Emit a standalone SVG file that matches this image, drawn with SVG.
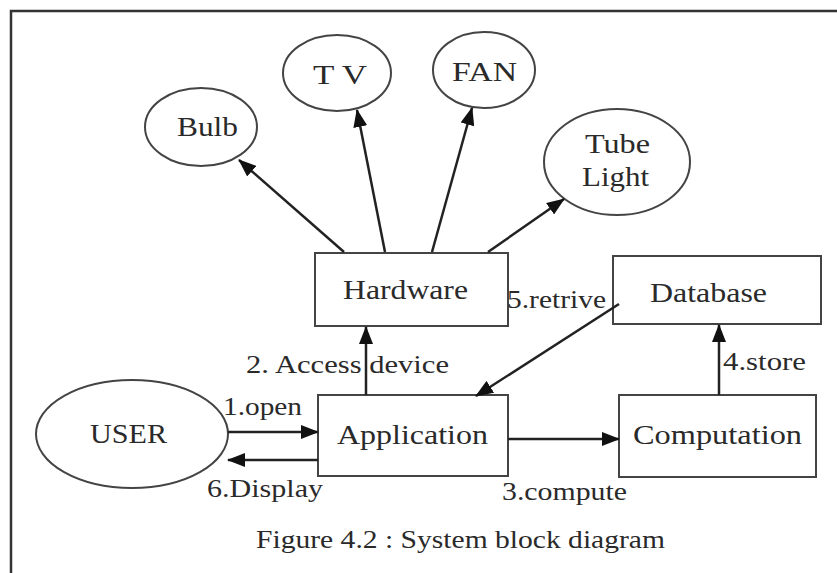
<svg xmlns="http://www.w3.org/2000/svg" width="837" height="573" viewBox="0 0 837 573">
  <style>
    .shape { fill: #ffffff; stroke: #444444; stroke-width: 2; }
    .conn { stroke: #222222; stroke-width: 2.5; fill: none; }
    .node-text { font-family: "Liberation Serif", "Times New Roman", serif; font-size: 28px; fill: #2a2a2a; text-anchor: middle; }
    .label { font-family: "Liberation Serif", "Times New Roman", serif; font-size: 26px; fill: #2a2a2a; }
  </style>
  <defs>
    <marker id="arrow" markerUnits="userSpaceOnUse" markerWidth="18" markerHeight="14" refX="17" refY="7" orient="auto">
      <path d="M0,0 L18,7 L0,14 z" fill="#111111"/>
    </marker>
  </defs>
  <rect width="837" height="573" fill="#ffffff"/>
  <path d="M11,573 L11,11 L837,11" fill="none" stroke="#333333" stroke-width="2.5"/>

  <g id="bulb">
    <ellipse class="shape" cx="201" cy="127" rx="56" ry="39"/>
    <text class="node-text" x="207.5" y="136" textLength="61" lengthAdjust="spacingAndGlyphs">Bulb</text>
  </g>
  <g id="tv">
    <ellipse class="shape" cx="337" cy="73" rx="54" ry="38"/>
    <text class="node-text" x="340" y="84" textLength="54" lengthAdjust="spacingAndGlyphs">T V</text>
  </g>
  <g id="fan">
    <ellipse class="shape" cx="484" cy="70" rx="51" ry="38"/>
    <text class="node-text" x="484.5" y="81" textLength="65" lengthAdjust="spacingAndGlyphs">FAN</text>
  </g>
  <g id="tube-light">
    <ellipse class="shape" cx="617" cy="162" rx="73" ry="53"/>
    <text class="node-text" x="617.5" y="153" textLength="65" lengthAdjust="spacingAndGlyphs">Tube</text>
    <text class="node-text" x="615.5" y="186" textLength="67" lengthAdjust="spacingAndGlyphs">Light</text>
  </g>
  <g id="hardware">
    <rect class="shape" x="315" y="253" width="193" height="73"/>
    <text class="node-text" x="405.5" y="299" textLength="125" lengthAdjust="spacingAndGlyphs">Hardware</text>
  </g>
  <g id="database">
    <rect class="shape" x="613" y="256" width="208" height="68"/>
    <text class="node-text" x="708.5" y="302" textLength="117" lengthAdjust="spacingAndGlyphs">Database</text>
  </g>
  <g id="application">
    <rect class="shape" x="318" y="395" width="190" height="81"/>
    <text class="node-text" x="412.5" y="444" textLength="151" lengthAdjust="spacingAndGlyphs">Application</text>
  </g>
  <g id="computation">
    <rect class="shape" x="619" y="395" width="197" height="82"/>
    <text class="node-text" x="717.5" y="444" textLength="169" lengthAdjust="spacingAndGlyphs">Computation</text>
  </g>
  <g id="user">
    <ellipse class="shape" cx="132" cy="434" rx="96" ry="54"/>
    <text class="node-text" x="128.5" y="443" textLength="77" lengthAdjust="spacingAndGlyphs">USER</text>
  </g>

  <g id="connectors">
    <line class="conn" x1="344" y1="252" x2="239" y2="160" marker-end="url(#arrow)"/>
    <line class="conn" x1="385" y1="252" x2="357" y2="110" marker-end="url(#arrow)"/>
    <line class="conn" x1="432" y1="252" x2="472" y2="108" marker-end="url(#arrow)"/>
    <line class="conn" x1="488" y1="252" x2="564" y2="199" marker-end="url(#arrow)"/>
    <line class="conn" x1="366" y1="395" x2="366" y2="327" marker-end="url(#arrow)"/>
    <line class="conn" x1="619" y1="304" x2="476" y2="396" marker-end="url(#arrow)"/>
    <line class="conn" x1="719" y1="395" x2="719" y2="325" marker-end="url(#arrow)"/>
    <line class="conn" x1="508" y1="439" x2="619" y2="439" marker-end="url(#arrow)"/>
    <line class="conn" x1="228" y1="432" x2="318" y2="432" marker-end="url(#arrow)"/>
    <line class="conn" x1="318" y1="460" x2="228" y2="460" marker-end="url(#arrow)"/>
  </g>

  <g id="labels">
    <text class="label" x="246" y="373" textLength="203" lengthAdjust="spacingAndGlyphs">2. Access device</text>
    <text class="label" x="223" y="415" textLength="79" lengthAdjust="spacingAndGlyphs">1.open</text>
    <text class="label" x="207" y="497" textLength="116" lengthAdjust="spacingAndGlyphs">6.Display</text>
    <text class="label" x="502" y="500" textLength="125" lengthAdjust="spacingAndGlyphs">3.compute</text>
    <text class="label" x="723" y="370" textLength="83" lengthAdjust="spacingAndGlyphs">4.store</text>
    <text class="label" x="507" y="308" textLength="99" lengthAdjust="spacingAndGlyphs">5.retrive</text>
    <text class="label" x="256" y="548" textLength="409" lengthAdjust="spacingAndGlyphs">Figure 4.2 : System block diagram</text>
  </g>
</svg>
